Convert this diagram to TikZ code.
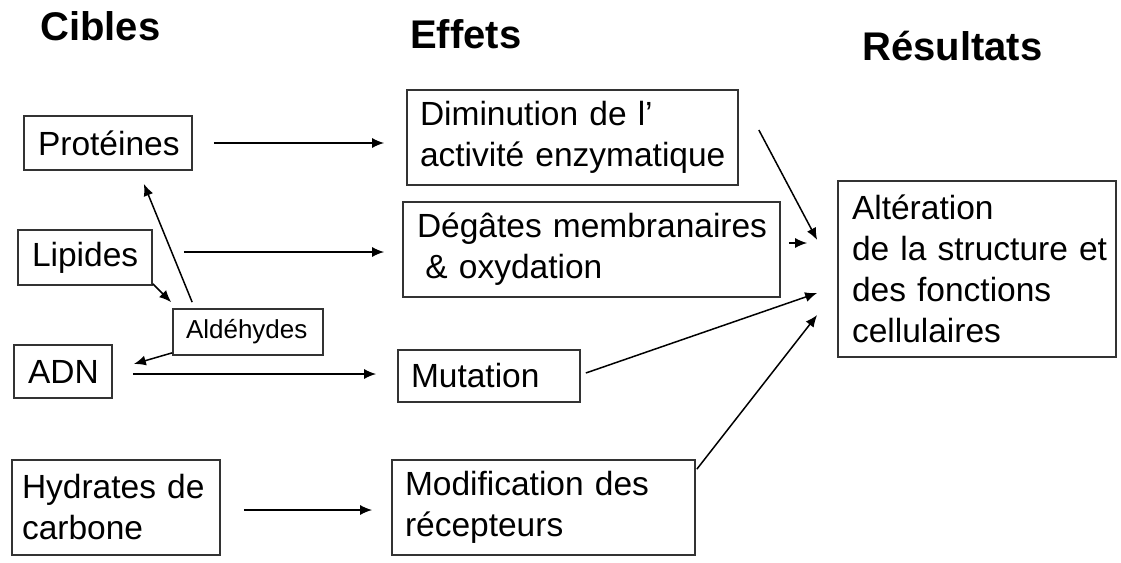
\documentclass[tikz,border=0pt]{standalone}
\usepackage{fontspec}
\setmainfont{Liberation Sans}
\usetikzlibrary{arrows.meta,calc}
\begin{document}
\begin{tikzpicture}[x=1pt,y=-1pt,
  box/.style={draw=black!80, line width=1.7pt, rectangle, inner sep=0pt,
    font=\fontsize{33.5}{41}\selectfont, align=left},
  smallbox/.style={box, font=\fontsize{26}{32}\selectfont},
  arr/.style={line width=1.5pt, -{Latex[length=12pt,width=10pt]}},
  title/.style={font=\fontsize{40}{48}\selectfont\bfseries, anchor=base west, inner sep=0pt}]
\useasboundingbox (0,0) rectangle (1121,562);

% titles
\node[title] (tc) at (40,40) {Cibles};
\node[title] (te) at (410,48) {Effets};
\node[title] (tr) at (862,60) {Résultats};

% targets
\node[box, minimum width=168, minimum height=54, text width=140] (prot) at (108,143) {Protéines};
\node[box, minimum width=134, minimum height=55, text width=106] (lip) at (85,257.5) {Lipides};
\node[box, minimum width=98, minimum height=53, text width=70] (adn) at (63,371.5) {ADN};
\node[box, minimum width=208, minimum height=95, text width=188] (hyd) at (116,507.5) {\mbox{Hydrates de}\\carbone};
\node[smallbox, minimum width=150, minimum height=46, text width=124] (ald) at (248,332) {Aldéhydes};

% effects
\node[box, minimum width=331, minimum height=95, text width=305] (dim) at (572.5,137.5) {\mbox{Diminution de l’}\\\mbox{activité enzymatique}};
\node[box, minimum width=377, minimum height=95, text width=349] (deg) at (591.5,249.5) {\mbox{Dégâtes membranaires}\\\hspace*{0.25em}\& oxydation};
\node[box, minimum width=182, minimum height=52, text width=156] (mut) at (489,376) {Mutation};
\node[box, minimum width=303, minimum height=95, text width=277] (mod) at (543.5,507.5) {\mbox{Modification des}\\récepteurs};

% result
\node[box, minimum width=278, minimum height=176, text width=250] (alt) at (977,269) {Altération\\\mbox{de la structure et}\\\mbox{des fonctions}\\cellulaires};

% connectors
\draw[arr] ($(prot.east)+(21,0)$) -- ($(dim.west)+(-22,5.5)$);
\draw[arr] ($(lip.east)+(31,-5.5)$) -- ($(deg.west)+(-18,2.5)$);
\draw[arr] ($(adn.east)+(20,2.5)$) -- ($(mut.west)+(-21,-2)$);
\draw[arr] ($(hyd.east)+(23,2.5)$) -- ($(mod.west)+(-19,2.5)$);
\draw[arr] ($(lip.south east)+(0,-2)$) -- ($(ald.north west)+(-1,-6)$);
\draw[arr] ($(ald.north west)+(20,-6)$) -- ($(prot.south east)+(-49,13)$);
\draw[arr] ($(ald.south west)+(0,-3)$) -- ($(adn.east)+(21,-7.5)$);
\draw[arr] ($(dim.east)+(20,-7.5)$) -- ($(alt.west)+(-20,-29)$);
\draw[arr] ($(deg.east)+(8,-6.5)$) -- ($(alt.west)+(-30,-26)$);
\draw[arr] ($(mut.east)+(5,-3)$) -- ($(alt.west)+(-20,24)$);
\draw[arr] ($(mod.north east)+(1,10)$) -- ($(alt.west)+(-20,46)$);
\end{tikzpicture}
\end{document}
